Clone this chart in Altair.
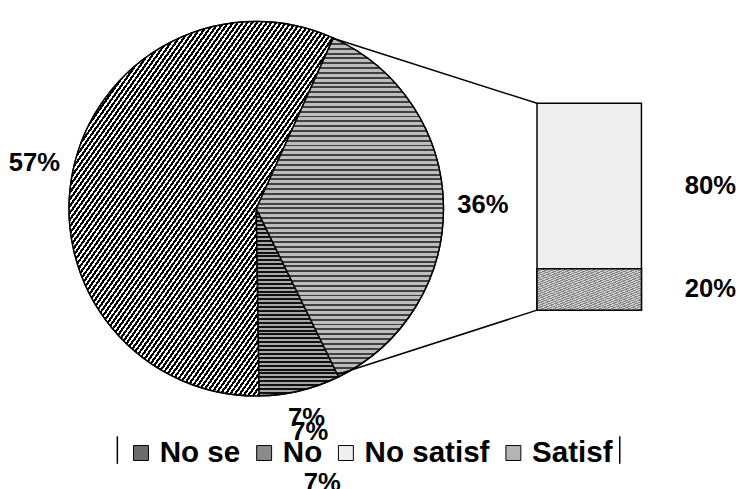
import math
import altair as alt
import pandas as pd

# ---------------- data ----------------
pie_cats = ["Otros", "No se", "No"]
pie_vals = [36, 7, 57]
pie_labels = ["36%", "", "57%"]

bar_cats = ["Satisf", "No satisf"]
bar_vals = [20, 80]
bar_labels = ["20%", "80%"]

legend_cats = ["No se", "No", "No satisf", "Satisf"]
dup_labels = ["7%", "7%", "7%"]

# ---------------- style / layout ----------------
color_domain = ["No se", "No", "No satisf", "Satisf", "Otros"]
color_range = ["#6c6c6c", "#8a8a8a", "#efefef", "#b4b4b4", "#a0a0a0"]
FONT = "Liberation Sans"
CX, CY, R = 251, 200, 190
START = math.radians(24.3)


def stripes(n, dark_frac, dark, light, x2, y2):
    """Hard-edged striped fill (hatching look) built from gradient stops."""
    stops = []
    for k in range(n):
        a = k / n
        b = (k + dark_frac) / n
        c = (k + 1) / n
        stops += [alt.GradientStop(offset=a, color=dark),
                  alt.GradientStop(offset=b, color=dark),
                  alt.GradientStop(offset=b, color=light),
                  alt.GradientStop(offset=c, color=light)]
    return alt.LinearGradient(gradient="linear", stops=stops, x1=0, y1=0, x2=x2, y2=y2)


slice_fills = {
    "No": stripes(110, 0.55, "#000000", "#ffffff", 1, 1),
    "No se": stripes(48, 0.5, "#111111", "#a8a8a8", 0, 1),
    "Otros": stripes(70, 0.4, "#404040", "#bdbdbd", 0, 1),
}
bar_fills = {
    "Satisf": stripes(36, 0.5, "#808080", "#d4d4d4", 1, 1),
}

pie_df = pd.DataFrame({"cat": pie_cats, "value": pie_vals, "lbl": pie_labels,
                       "order": list(range(len(pie_cats)))})

starts, ends, acc = [], [], 0
for v in bar_vals:
    starts.append(acc)
    acc += v
    ends.append(acc)
bar_df = pd.DataFrame({"cat": bar_cats, "start": starts, "end": ends, "lbl": bar_labels,
                       "mid": [(s + e) / 2 for s, e in zip(starts, ends)]})

color_scale = alt.Scale(domain=color_domain, range=color_range)
theta_scale = alt.Scale(domain=[0, 100], range=[START, START + 2 * math.pi])
y_scale = alt.Scale(domain=[0, 100], range=[303, 93])

pie = alt.Chart(pie_df).mark_arc(radius=R, stroke="black", strokeWidth=1.5).encode(
    theta=alt.Theta("value:Q", stack=True, scale=theta_scale),
    order=alt.Order("order:Q"),
    color=alt.Color("cat:N", scale=color_scale,
                    legend=alt.Legend(orient="none", legendX=115, legendY=429,
                                      direction="horizontal", columns=4, title=None,
                                      values=legend_cats, symbolType="square",
                                      symbolSize=230, symbolStrokeColor="black",
                                      symbolStrokeWidth=1, symbolOpacity=1,
                                      labelFont=FONT, labelFontSize=30,
                                      labelFontWeight="bold", labelColor="black",
                                      columnPadding=9, labelOffset=4, padding=4)),
    x=alt.value(CX), y=alt.value(CY),
)

# cumulative shares computed in Vega -> slice start/end and mid-angles
cum_base = alt.Chart(pie_df).transform_window(
    cum="sum(value)", sort=[alt.SortField("order")]
).transform_calculate(start="datum.cum - datum.value",
                      mid="datum.cum - datum.value / 2")

hatched = [
    cum_base.transform_filter(alt.datum.cat == c).mark_arc(
        radius=R, fill=f, stroke="black", strokeWidth=1.5).encode(
        theta=alt.Theta("start:Q", stack=None, scale=theta_scale),
        theta2="cum:Q",
        x=alt.value(CX), y=alt.value(CY),
    )
    for c, f in slice_fills.items()
]

pie_text = cum_base.transform_filter("datum.lbl != ''").mark_text(
    font=FONT, fontSize=26, fontWeight="bold", color="black").encode(
    theta=alt.Theta("mid:Q", stack=None, scale=theta_scale),
    radius=alt.value(230),
    text="lbl:N",
    x=alt.value(CX), y=alt.value(CY),
)

# repeated "7%" labels of the small slice, at growing distances on its mid-angle
dup_radii = [219, 233, 287]
dup_texts = [
    cum_base.transform_filter(alt.datum.cat == "No se").transform_calculate(
        lbl=f"'{dup_labels[i]}'").mark_text(
        font=FONT, fontSize=26, fontWeight="bold", color="black").encode(
        theta=alt.Theta("mid:Q", stack=None, scale=theta_scale),
        radius=alt.value(rr),
        text="lbl:N",
        x=alt.value(CX), y=alt.value(CY),
    )
    for i, rr in enumerate(dup_radii)
]

bar = alt.Chart(bar_df).mark_bar(stroke="black", strokeWidth=1.5).encode(
    x=alt.value(536), x2=alt.value(642),
    y=alt.Y("start:Q", scale=y_scale, axis=None),
    y2="end:Q",
    color=alt.Color("cat:N", scale=color_scale, legend=None),
)

bar_hatched = [
    alt.Chart(bar_df).transform_filter(alt.datum.cat == c).mark_bar(
        fill=f, stroke="black", strokeWidth=1.5).encode(
        x=alt.value(536), x2=alt.value(642),
        y=alt.Y("start:Q", scale=y_scale, axis=None),
        y2="end:Q",
    )
    for c, f in bar_fills.items()
]

bar_text = alt.Chart(bar_df).mark_text(font=FONT, fontSize=26, fontWeight="bold",
                                       color="black").encode(
    x=alt.value(712),
    y=alt.Y("mid:Q", scale=y_scale, axis=None),
    text="lbl:N",
)

one = pd.DataFrame({"a": [0]})
connectors = [
    alt.Chart(one).mark_rule(color="black", strokeWidth=1.5).encode(
        x=alt.value(x1), y=alt.value(y1), x2=alt.value(x2), y2=alt.value(y2))
    for (x1, y1, x2, y2) in [(329, 27, 536, 93), (334, 368, 536, 303)]
]

legend_edges = [
    alt.Chart(one).mark_rule(color="black", strokeWidth=1.5).encode(
        x=alt.value(xx), y=alt.value(431), y2=alt.value(459))
    for xx in [110, 620]
]

chart = alt.layer(pie, *hatched, pie_text, *dup_texts, bar, *bar_hatched, bar_text,
                  *connectors, *legend_edges).properties(
    width=729, height=473, padding=0
).configure_view(stroke=None).resolve_scale(color="shared")

chart.save("out.html", embed_options={"renderer": "svg", "actions": False})
